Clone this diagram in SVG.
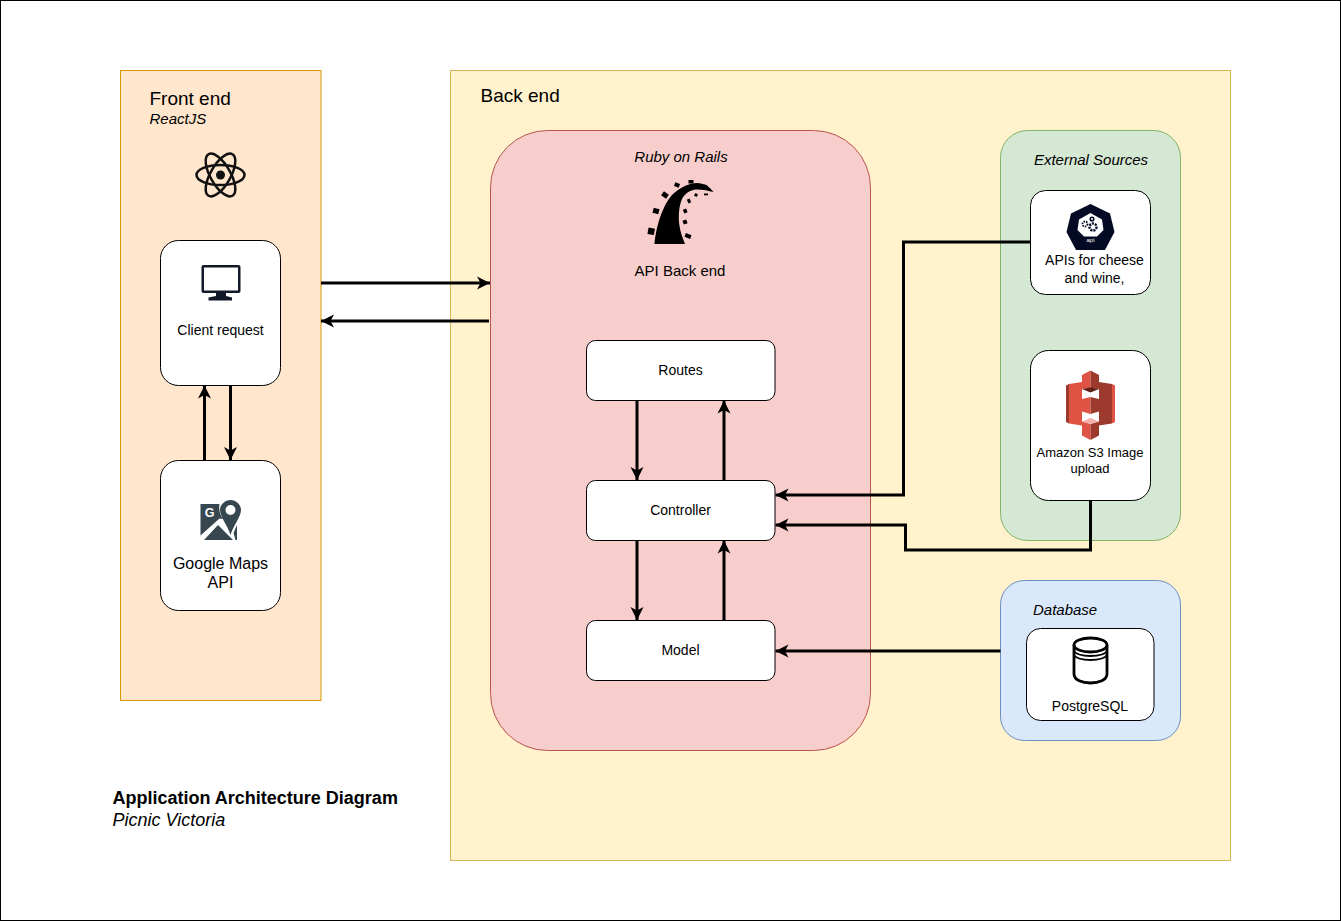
<svg xmlns="http://www.w3.org/2000/svg" width="1341" height="921" viewBox="0 0 1341 921">
<style>
text{font-family:"Liberation Sans",Arial,sans-serif;fill:#000;text-anchor:middle}
.i{font-style:italic}
.s{text-anchor:start}
.card{fill:#fff;stroke:#000;stroke-width:1}
.c{fill:none;stroke:#000;stroke-width:3;marker-end:url(#a)}
.lt{fill:#e05243}
.dk{fill:#9c3a2d}
</style>
<defs>
<marker id="a" markerUnits="userSpaceOnUse" markerWidth="16" markerHeight="16" refX="13" refY="8" orient="auto">
<path d="M0 1.500L13 8L0 14.500L3.500 8Z" fill="#000"/>
</marker>
</defs>
<rect id="page" x="0.500" y="0.500" width="1340" height="920" fill="#fff" stroke="#000"/>
<g id="frontend">
<rect x="120.500" y="70.500" width="200.500" height="630" fill="#ffe6cc" stroke="#d79b00"/>
<text class="s" x="149.500" y="105" font-size="19">Front end</text>
<text class="s i" x="149.500" y="124" font-size="15">ReactJS</text>
<g id="react-icon" fill="none" stroke="#111" stroke-width="2.500">
<ellipse cx="220.500" cy="175" rx="24" ry="10"/>
<ellipse cx="220.500" cy="175" rx="24" ry="10" transform="rotate(60 220.500 175)"/>
<ellipse cx="220.500" cy="175" rx="24" ry="10" transform="rotate(120 220.500 175)"/>
<circle cx="220.500" cy="175" r="4.500" fill="#111" stroke="none"/>
</g>
</g>
<g id="backend">
<rect x="450.500" y="70.500" width="780" height="790" fill="#fff2cc" stroke="#d6b656"/>
<text class="s" x="480.500" y="102" font-size="19">Back end</text>
</g>
<g id="rails">
<rect x="490.500" y="130.500" width="380" height="620" rx="57" fill="#f8cecc" stroke="#b85450"/>
<text class="i" x="681" y="162" font-size="15">Ruby on Rails</text>
<path d="M654.500 244C656 226 663 205 672 195C680 187 690 183 697 183C704 183 710 187 713.500 192C708 190.500 701 189 695 189.500C688 191 684 195 682 199C679 206 678 216 679.500 226C680.500 233 683 239 685 244Z" fill="#000"/>
<g fill="#000">
<rect x="648" y="228" width="6.500" height="6.500" transform="rotate(10 651 231)"/>
<rect x="653" y="208.500" width="6" height="5" transform="rotate(15 656 211)"/>
<rect x="662" y="192.500" width="6" height="5" transform="rotate(35 665 195)"/>
<rect x="674.500" y="183" width="5" height="4" transform="rotate(20 677 185)"/>
<rect x="688.500" y="180" width="5" height="3.500"/>
<rect x="704" y="185" width="4" height="2" transform="rotate(30 706 186)"/>
<rect x="704" y="193.500" width="4" height="1.800"/>
<rect x="694.500" y="193.500" width="3" height="3" transform="rotate(30 696 195)"/>
<rect x="687.500" y="199" width="3" height="4" transform="rotate(-25 689 201)"/>
<rect x="683.500" y="209" width="3.500" height="4" transform="rotate(-20 685 211)"/>
<rect x="683" y="220" width="4" height="4" transform="rotate(-20 685 222)"/>
<rect x="685" y="234" width="6" height="4" transform="rotate(20 688 236)"/>
</g>
<text x="680" y="276" font-size="15">API Back end</text>
</g>
<g id="external">
<rect x="1000.500" y="130.500" width="180" height="410" rx="27" fill="#d5e8d4" stroke="#82b366"/>
<text class="i" x="1091" y="165" font-size="15">External Sources</text>
</g>
<g id="database">
<rect x="1000.500" y="580.500" width="180" height="160" rx="24" fill="#dae8fc" stroke="#6c8ebf"/>
<text class="i s" x="1033" y="615" font-size="15">Database</text>
</g>
<g id="client">
<rect class="card" x="160.500" y="240.500" width="120" height="145" rx="18"/>
<g fill="#111827">
<path fill-rule="evenodd" d="M203.500 265H238.500Q240.500 265 240.500 267V291Q240.500 293 238.500 293H203.500Q201.500 293 201.500 291V267Q201.500 265 203.500 265ZM204 267.500V290.500H238V267.500Z"/>
<path d="M216 293H226V296L232 297.500V300.500H208.500V297.500L216 296Z"/>
</g>
<text x="220.500" y="335" font-size="14">Client request</text>
</g>
<g id="google-maps">
<rect class="card" x="160.500" y="460.500" width="120" height="150" rx="18"/>
<g fill="#37474f">
<path d="M200.500 504H219.500C218.500 510 220 515 223 519L219.500 518.500L200.500 535.500Z"/>
<path fill-rule="evenodd" d="M230.500 500C225 500 220 504.500 220 510C220 517 228 526 230.500 535C233 526 241 517 241 510C241 504.500 236 500 230.500 500ZM230.500 505A5 5 0 1 1 230.500 515A5 5 0 0 1 230.500 505Z"/>
<path d="M218 525L233 540H204Z"/>
<path d="M237 525V540H235.500L233.500 533Z"/>
</g>
<text x="209.500" y="517" font-size="12.500" font-weight="bold" style="fill:#fff">G</text>
<text x="220.500" y="569" font-size="16">Google Maps</text>
<text x="220.500" y="588" font-size="16">API</text>
</g>
<g id="routes">
<rect class="card" x="586.500" y="340.500" width="188.500" height="60" rx="9"/>
<text x="680.500" y="375" font-size="14">Routes</text>
</g>
<g id="controller">
<rect class="card" x="586.500" y="480.500" width="188.500" height="60" rx="9"/>
<text x="680.500" y="515" font-size="14">Controller</text>
</g>
<g id="model">
<rect class="card" x="586.500" y="620.500" width="188.500" height="60" rx="9"/>
<text x="680.500" y="655" font-size="14">Model</text>
</g>
<g id="apis">
<rect class="card" x="1030.500" y="190.500" width="120" height="104" rx="15"/>
<path d="M1090.500 204L1110 213.500L1114.500 232L1105 250H1076L1066.500 232L1071 213.500Z" fill="#050a24"/>
<path d="M1090.500 213L1102 219.500L1103.500 230L1097 236.500H1084L1077.500 230L1079 219.500Z" fill="#fff"/>
<g fill="none" stroke="#050a24">
<circle cx="1093" cy="227" r="3.500" stroke-width="2.500" stroke-dasharray="2 1"/>
<circle cx="1085" cy="224" r="2.500" stroke-width="1.800" stroke-dasharray="1.500 1"/>
<circle cx="1092" cy="219" r="1.800" stroke-width="1.500"/>
</g>
<text x="1090.500" y="241.500" font-size="6" style="fill:#fff">api</text>
<text x="1094.500" y="265" font-size="14">APIs for cheese</text>
<text x="1094.500" y="283" font-size="14">and wine,</text>
</g>
<g id="s3">
<rect class="card" x="1030.500" y="350.500" width="120" height="150" rx="18"/>
<path class="lt" d="M1069 384L1082 382V425.500L1069 423.500Z"/>
<path class="dk" d="M1066 385.500L1069 384V423.500L1066 422Z"/>
<path class="dk" d="M1112 384L1099 382V425.500L1112 423.500Z"/>
<path class="lt" d="M1115 385.500L1112 384V423.500L1115 422Z"/>
<path class="lt" d="M1082 375L1090.500 370.500V388L1082 389Z"/>
<path class="dk" d="M1099 375L1090.500 370.500V388L1099 389Z"/>
<path d="M1082 389L1090.500 387.500L1099 389L1090.500 392.500Z" fill="#5e1f18"/>
<path class="lt" d="M1082 399L1090.500 397V414L1082 411.500Z"/>
<path class="dk" d="M1099 399L1090.500 397V414L1099 411.500Z"/>
<path class="lt" d="M1082 421.500L1090.500 424V440L1082 435.500Z"/>
<path class="dk" d="M1099 421.500L1090.500 424V440L1099 435.500Z"/>
<path d="M1082 421.500L1090.500 418L1099 421.500L1090.500 424Z" fill="#f2b0a9"/>
<text x="1090" y="457" font-size="13">Amazon S3 Image</text>
<text x="1090" y="473" font-size="13">upload</text>
</g>
<g id="postgresql">
<rect class="card" x="1026.500" y="628.500" width="127.500" height="92" rx="14"/>
<g fill="none" stroke="#000" stroke-width="2.800">
<path d="M1074 645V674C1074 686 1107 686 1107 674V645"/>
<ellipse cx="1090.500" cy="645" rx="16.500" ry="7"/>
<path d="M1074 650C1074 658 1107 658 1107 650M1074 654C1074 662 1107 662 1107 654" stroke-width="1.800"/>
</g>
<text x="1090" y="711" font-size="14">PostgreSQL</text>
</g>
<g id="connectors">
<path class="c" d="M321 283H490"/>
<path class="c" d="M489 321H321"/>
<path class="c" d="M204.500 460V385.500"/>
<path class="c" d="M230.500 385.500V460"/>
<path class="c" d="M637 400.500V480"/>
<path class="c" d="M724 480.500V400.500"/>
<path class="c" d="M637 540.500V620"/>
<path class="c" d="M724 620.500V540.500"/>
<path class="c" d="M1030 242H903.500V495H775.500"/>
<path class="c" d="M1090.500 500.500V550H905.500V525H775.500"/>
<path class="c" d="M1000.500 651H775.500"/>
</g>
<g id="title">
<text class="s" x="112.500" y="804" font-size="18" font-weight="bold">Application Architecture Diagram</text>
<text class="s i" x="112.500" y="826" font-size="18">Picnic Victoria</text>
</g>
</svg>
